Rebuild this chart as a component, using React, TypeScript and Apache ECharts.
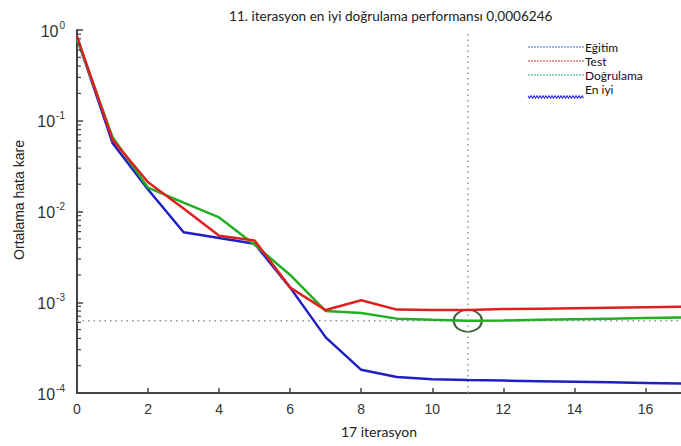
import React, { useEffect, useRef } from "react";
import * as echarts from "echarts";

const iterations = [0, 1, 2, 3, 4, 5, 6, 7, 8, 9, 10, 11, 12, 13, 14, 15, 16, 17];
const egitim = [0.82, 0.057, 0.0175, 0.0059, 0.0051, 0.0044, 0.00145, 0.00041, 0.00018, 0.00015, 0.000142, 0.000139, 0.000137, 0.000135, 0.000133, 0.000131, 0.000129, 0.000127];
const test = [0.85, 0.062, 0.021, 0.0108, 0.0054, 0.0048, 0.00145, 0.00082, 0.00105, 0.00083, 0.00082, 0.00082, 0.00084, 0.00085, 0.00086, 0.00087, 0.00088, 0.00089];
const dogrulama = [0.8, 0.066, 0.0183, 0.0125, 0.0086, 0.0043, 0.002, 0.0008, 0.00076, 0.00066, 0.00064, 0.0006246, 0.00063, 0.00064, 0.00065, 0.00066, 0.00067, 0.00068];
const bestIteration = 11;
const bestValue = 0.0006246;
const xTickValues = [0, 2, 4, 6, 8, 10, 12, 14, 16];
const yDecades = [0.0001, 0.001, 0.01, 0.1, 1];
const yMinorMultipliers = [2, 3, 4, 5, 6, 7, 8, 9];
const seriesNames = ["Eğitim", "Test", "Doğrulama", "En iyi"];
const titleText = "11. iterasyon en iyi doğrulama performansı 0,0006246";
const xAxisName = "17 iterasyon";
const yAxisName = "Ortalama hata kare";

export default function App() {
  const ref = useRef<HTMLDivElement>(null);
  useEffect(() => {
    if (!ref.current) return;
    const chart = echarts.init(ref.current, null, { renderer: "svg" });

    const legendColors = ["#3a6fd8", "#d63a3a", "#2fb36f"];
    const legendX1 = 528;
    const legendX2 = 584;
    const legendRows = [47, 61, 75];
    const graphics: any[] = [];
    legendRows.forEach((y, i) => {
      graphics.push({
        type: "line",
        shape: { x1: legendX1, y1: y, x2: legendX2, y2: y },
        style: { stroke: legendColors[i], lineWidth: 1, lineDash: [2, 1] },
      });
      graphics.push({
        type: "text",
        x: legendX2 + 1,
        y,
        style: { text: seriesNames[i], fontFamily: "Lato", fontSize: 12, fill: "#111", verticalAlign: "middle" },
      });
    });
    const wave: number[][] = [];
    for (let x = legendX1; x <= legendX2; x += 1.5) {
      wave.push([x, 97 + (Math.round((x - legendX1) / 1.5) % 2 === 0 ? -1.2 : 1.2)]);
    }
    graphics.push({ type: "polyline", shape: { points: wave }, style: { stroke: "#2a2ad8", lineWidth: 1.2, fill: null } });
    graphics.push({
      type: "text",
      x: legendX2 + 1,
      y: 89,
      style: { text: seriesNames[3], fontFamily: "Lato", fontSize: 12, fill: "#111", verticalAlign: "middle" },
    });
    graphics.push({
      type: "text",
      x: 19,
      y: 200,
      rotation: Math.PI / 2,
      style: { text: yAxisName, fontFamily: "Liberation Sans", fontSize: 14, fill: "#222", align: "center", verticalAlign: "middle" },
    });

    const dotted = { color: "#7f9aa6", type: [1.5, 4], width: 1.5 };

    chart.setOption({
      animation: false,
      backgroundColor: "#ffffff",
      title: {
        text: titleText,
        left: 224,
        top: 4,
        textStyle: { fontFamily: "Lato", fontSize: 13.6, fontWeight: "normal", color: "#222" },
      },
      graphic: graphics,
      grid: { left: 77, top: 30, right: -3, bottom: 53 },
      xAxis: {
        type: "value",
        min: 0,
        max: 17,
        name: xAxisName,
        nameLocation: "middle",
        nameGap: 31,
        nameTextStyle: { fontFamily: "Lato", fontSize: 14, color: "#222" },
        axisLine: { show: true, lineStyle: { color: "#444", width: 2 } },
        axisTick: { show: true, inside: true, length: 5, customValues: xTickValues, lineStyle: { color: "#444", width: 1.5 } },
        axisLabel: { customValues: xTickValues, fontFamily: "Liberation Sans", fontSize: 14, color: "#333", margin: 9 },
        splitLine: { show: false },
      },
      yAxis: {
        type: "log",
        logBase: 10,
        min: 0.0001,
        max: 1,
        axisLine: { show: true, lineStyle: { color: "#444", width: 2 } },
        axisTick: { show: true, inside: true, length: 6, customValues: yDecades, lineStyle: { color: "#444", width: 1.5 } },
        axisLabel: {
          customValues: yDecades,
          margin: 12,
          formatter: (v: number) => `{b|10}{s|${Math.round(Math.log10(v))}}`,
          rich: {
            b: { fontFamily: "Liberation Sans", fontSize: 16, color: "#333", verticalAlign: "bottom", lineHeight: 18 },
            s: { fontFamily: "Liberation Sans", fontSize: 10, color: "#333", verticalAlign: "bottom", lineHeight: 18, padding: [0, 0, 9, 1] },
          },
        },
        splitLine: { show: false },
      },
      series: [
        {
          type: "line",
          silent: true,
          data: [[0, bestValue], [17, bestValue]],
          symbol: "none",
          lineStyle: dotted,
        },
        {
          type: "line",
          silent: true,
          data: [[bestIteration, 0.0001], [bestIteration, 1]],
          symbol: "none",
          lineStyle: dotted,
        },
        {
          name: seriesNames[0],
          type: "line",
          data: iterations.map((x, i) => [x, egitim[i]]),
          symbol: "none",
          lineStyle: { color: "#1f1fc4", width: 2.5 },
        },
        {
          name: seriesNames[2],
          type: "line",
          data: iterations.map((x, i) => [x, dogrulama[i]]),
          symbol: "none",
          lineStyle: { color: "#22b022", width: 2.5 },
        },
        {
          name: seriesNames[1],
          type: "line",
          data: iterations.map((x, i) => [x, test[i]]),
          symbol: "none",
          lineStyle: { color: "#e0201f", width: 2.5 },
        },
        {
          name: seriesNames[3],
          type: "scatter",
          data: [[bestIteration, bestValue]],
          symbol: "circle",
          symbolSize: [28, 22],
          itemStyle: { color: "rgba(0,0,0,0)", borderColor: "#0d3d0d", borderWidth: 2 },
          silent: true,
        },
      ],
    });

    // minor ticks of the log axis, placed through the chart's own y scale
    const tickGraphics: any[] = [];
    yDecades.slice(0, -1).forEach((d) =>
      yMinorMultipliers.forEach((m) => {
        const p = chart.convertToPixel({ gridIndex: 0 }, [0, d * m]) as number[];
        if (p && isFinite(p[0]) && isFinite(p[1])) {
          tickGraphics.push({
            type: "line",
            z: 10,
            shape: { x1: p[0], y1: p[1], x2: p[0] + 4, y2: p[1] },
            style: { stroke: "#444", lineWidth: 1.2 },
          });
        }
      })
    );
    chart.setOption({ graphic: [...graphics, ...tickGraphics] });

    return () => chart.dispose();
  }, []);
  return <div ref={ref} style={{ position: "fixed", left: 0, top: 0, width: 681, height: 446 }} />;
}
